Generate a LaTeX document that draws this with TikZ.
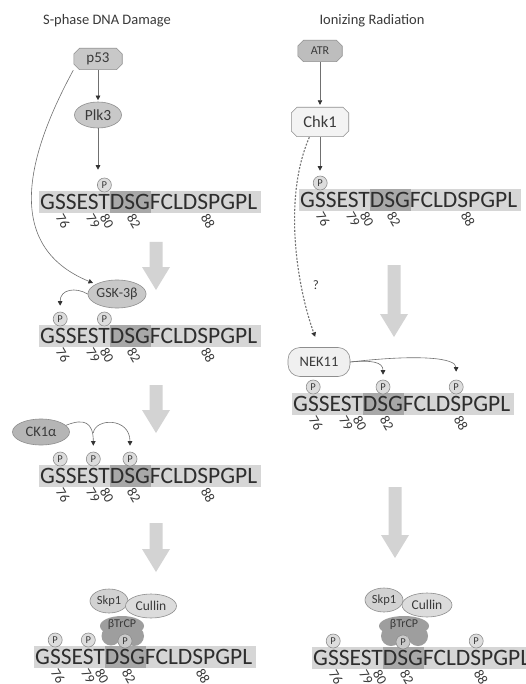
\documentclass[tikz,border=0pt]{standalone}
\usepackage{fontspec}
\setmainfont{Carlito}
\usetikzlibrary{arrows.meta,shapes.geometric}
\definecolor{txt}{HTML}{3A3A3A}
\definecolor{seqtxt}{HTML}{2E2E2E}
\definecolor{barfill}{HTML}{D6D6D6}
\definecolor{dsgfill}{HTML}{A8A8A8}
\definecolor{nodeg}{HTML}{C8C8C8}
\definecolor{edgec}{HTML}{8E8E8E}
\definecolor{bigfill}{HTML}{D3D3D3}
\definecolor{pfill}{HTML}{DDDDDD}
\definecolor{linec}{HTML}{707070}
\definecolor{atrfill}{HTML}{BDBDBD}
\definecolor{chkfill}{HTML}{F3F3F3}
\definecolor{ckfill}{HTML}{B5B5B5}
\definecolor{nekfill}{HTML}{F0F0F0}
\definecolor{skpfill}{HTML}{D2D2D2}
\definecolor{culfill}{HTML}{DCDCDC}
\definecolor{btrfill}{HTML}{9E9E9E}
\newcommand\myfs[1]{\fontsize{#1}{#1}\selectfont}
\tikzset{
  every node/.style={text=txt, inner sep=0pt},
  titlefont/.style={font=\myfs{14.5}},
  lab/.style={font=\myfs{15}},
  oct/.style={rectangle, lab, path picture={
    \path[fill=#1, draw=edgec, line width=0.6pt]
      ([shift={(6pt,-0.3pt)}]path picture bounding box.north west)
      -- ([shift={(-6pt,-0.3pt)}]path picture bounding box.north east)
      -- ([shift={(-0.3pt,-6pt)}]path picture bounding box.north east)
      -- ([shift={(-0.3pt,6pt)}]path picture bounding box.south east)
      -- ([shift={(-6pt,0.3pt)}]path picture bounding box.south east)
      -- ([shift={(6pt,0.3pt)}]path picture bounding box.south west)
      -- ([shift={(0.3pt,6pt)}]path picture bounding box.south west)
      -- ([shift={(0.3pt,-6pt)}]path picture bounding box.north west)
      -- cycle;}},
  ell/.style={ellipse, draw=edgec, line width=0.6pt, fill=nodeg, lab},
  pc/.style={circle, draw=edgec, line width=0.6pt, fill=pfill, minimum size=14pt, font=\myfs{10.5}},
  seqfont/.style={font=\myfs{23.5}, text=seqtxt},
  numfont/.style={font=\myfs{14}, text=txt},
  arr/.style={draw=linec, line width=0.6pt, -{Triangle[length=4.5pt,width=4.5pt,color=black!80]}},
  dasharr/.style={arr, dash pattern=on 2pt off 1.5pt, line width=1.1pt, draw=black!55},
  pics/seqrow/.style={code={
    \fill[barfill] (-1,-11) rectangle (221,11);
    \fill[dsgfill] (70,-11) rectangle (110.5,11);
    \node[seqfont, anchor=base west] (-seq) at (0,7.5) {GSSESTDSGFCLDSPGPL};
    \node[numfont, rotate=-60] (-n76) at (23,19) {76};
    \node[numfont, rotate=-60] (-n79) at (53,19) {79};
    \node[numfont, rotate=-60] (-n80) at (67,19) {80};
    \node[numfont, rotate=-60] (-n82) at (94,19) {82};
    \node[numfont, rotate=-60] (-n88) at (168,19) {88};
  }},
  pics/bigarrow/.style={code={
    \fill[bigfill] (-6.5,0) -- (6.5,0) -- (6.5,#1-23) -- (14,#1-23) -- (0,#1)
      -- (-14,#1-23) -- (-6.5,#1-23) -- cycle;
  }},
}
\begin{document}
\begin{tikzpicture}[x=1pt,y=-1pt]
\useasboundingbox (0,0) rectangle (526,684);
\clip (0,0) rectangle (526,684);
\fill[white] (0,0) rectangle (526,684);

% titles
\node[titlefont] (tL) at (107,21) {S-phase DNA Damage};
\node[titlefont] (tR) at (372,21) {Ionizing Radiation};

% ---------------- left column ----------------
\node[oct=nodeg, minimum width=49pt, minimum height=22pt] (p53) at (98,59) {p53};
\node[ell, minimum width=47pt, minimum height=26pt, font=\myfs{15.5}] (plk3) at (98,115) {Plk3};
\pic (L1) at (40,202) {seqrow};
\node[pc] (pL1) at (104.4,185) {P};
\draw[arr, shorten >=1.5pt] (p53) -- (plk3);
\draw[arr, shorten >=8pt] (plk3) -- (plk3 |- pL1.north);

\pic at (156,242) {bigarrow=48};

\node[ell, minimum width=50pt, minimum height=28pt, font=\myfs{14}] (gsk) at (117,294) {GSK-3β};
\pic (L2) at (40,336) {seqrow};
\node[pc] (pL2a) at (60.2,319) {P};
\node[pc] (pL2b) at (104.4,319) {P};
\draw[arr, shorten >=3pt] (p53.south west) .. controls (30,150) and (0,245) .. (gsk.155);
\draw[arr, shorten >=6pt] (gsk.west) .. controls (76,287) and (60,289) .. (pL2a.north);

\pic at (156,385) {bigarrow=48};

\node[ell, fill=ckfill, minimum width=57pt, minimum height=26pt, font=\myfs{14.5}] (ck1) at (41,432) {CK1α};
\pic (L3) at (40,476) {seqrow};
\node[pc] (pL3a) at (60.2,459) {P};
\node[pc] (pL3b) at (93.3,459) {P};
\node[pc] (pL3c) at (130,459) {P};
\coordinate (ckmid) at (93.3,433);
\draw[arr, shorten >=6pt] (ck1.15) .. controls (84,418) and (93.3,422) .. (pL3b.north);
\draw[arr, shorten >=6pt] (ckmid) .. controls (95,418) and (130,417) .. (pL3c.north);

\pic at (156,523) {bigarrow=49};

\pic (L4) at (35,657) {seqrow};
\fill[btrfill] (122,626) ellipse [x radius=22pt, y radius=10pt];
\fill[btrfill] (111,636) circle [radius=9.5pt];
\fill[btrfill] (134,636) circle [radius=10pt];
\node[font=\myfs{12}] (btrL) at (122,624) {βTrCP};
\node[ell, fill=skpfill, minimum width=38pt, minimum height=24pt, font=\myfs{12.5}] (skpL) at (109,601) {Skp1};
\node[ell, fill=culfill, minimum width=51pt, minimum height=24pt, font=\myfs{13.5}] (culL) at (151,606) {Cullin};
\node[pc] (pL4a) at (55.2,640) {P};
\node[pc] (pL4b) at (88.3,640) {P};
\node[pc, fill=pfill!70!btrfill] (pL4c) at (125,641) {P};

% ---------------- right column ----------------
\node[oct=atrfill, minimum width=45pt, minimum height=22pt, font=\myfs{12}] (atr) at (320,51) {ATR};
\node[oct=chkfill, minimum width=58pt, minimum height=30pt, font=\myfs{16.5}] (chk1) at (320,122) {Chk1};
\pic (R1) at (300,200) {seqrow};
\node[pc] (pR1) at (320.2,183) {P};
\draw[arr, shorten >=2pt] (atr) -- (chk1);
\draw[arr, shorten >=5pt] (chk1) -- (chk1 |- pR1.north);

\pic at (394,265) {bigarrow=72};

\node[draw=edgec, line width=0.6pt, fill=nekfill, rounded corners=12pt,
      minimum width=62pt, minimum height=29pt, font=\myfs{14.5}] (nek) at (319,362) {NEK11};
\draw[dasharr, shorten >=11pt] (chk1.235) .. controls (282,200) and (298,290) .. (nek.north);
\node[font=\myfs{13}] (q) at (316,285) {?};
\pic (R2) at (293,404) {seqrow};
\node[pc] (pR2a) at (313.2,387) {P};
\node[pc] (pR2b) at (383,387) {P};
\node[pc] (pR2c) at (456.2,387) {P};
\draw[arr, shorten >=5pt] (nek.east) .. controls (372,360) and (383,362) .. (pR2b.north);
\draw[arr, shorten >=8pt] (nek.east) .. controls (420,354) and (456,358) .. (pR2c.north);

\pic at (395,487) {bigarrow=71};

\pic (R4) at (313,658) {seqrow};
\fill[btrfill] (404,626) ellipse [x radius=25pt, y radius=10pt];
\fill[btrfill] (391,636) circle [radius=10pt];
\fill[btrfill] (418,636) circle [radius=10pt];
\node[font=\myfs{12}] (btrR) at (404,624) {βTrCP};
\node[ell, fill=skpfill, minimum width=38pt, minimum height=24pt, font=\myfs{12.5}] (skpR) at (384,600) {Skp1};
\node[ell, fill=culfill, minimum width=50pt, minimum height=24pt, font=\myfs{13.5}] (culR) at (427,605) {Cullin};
\node[pc] (pR4a) at (333.2,641) {P};
\node[pc, fill=pfill!70!btrfill] (pR4b) at (403,642) {P};
\node[pc] (pR4c) at (476.2,641) {P};
\end{tikzpicture}
\end{document}
